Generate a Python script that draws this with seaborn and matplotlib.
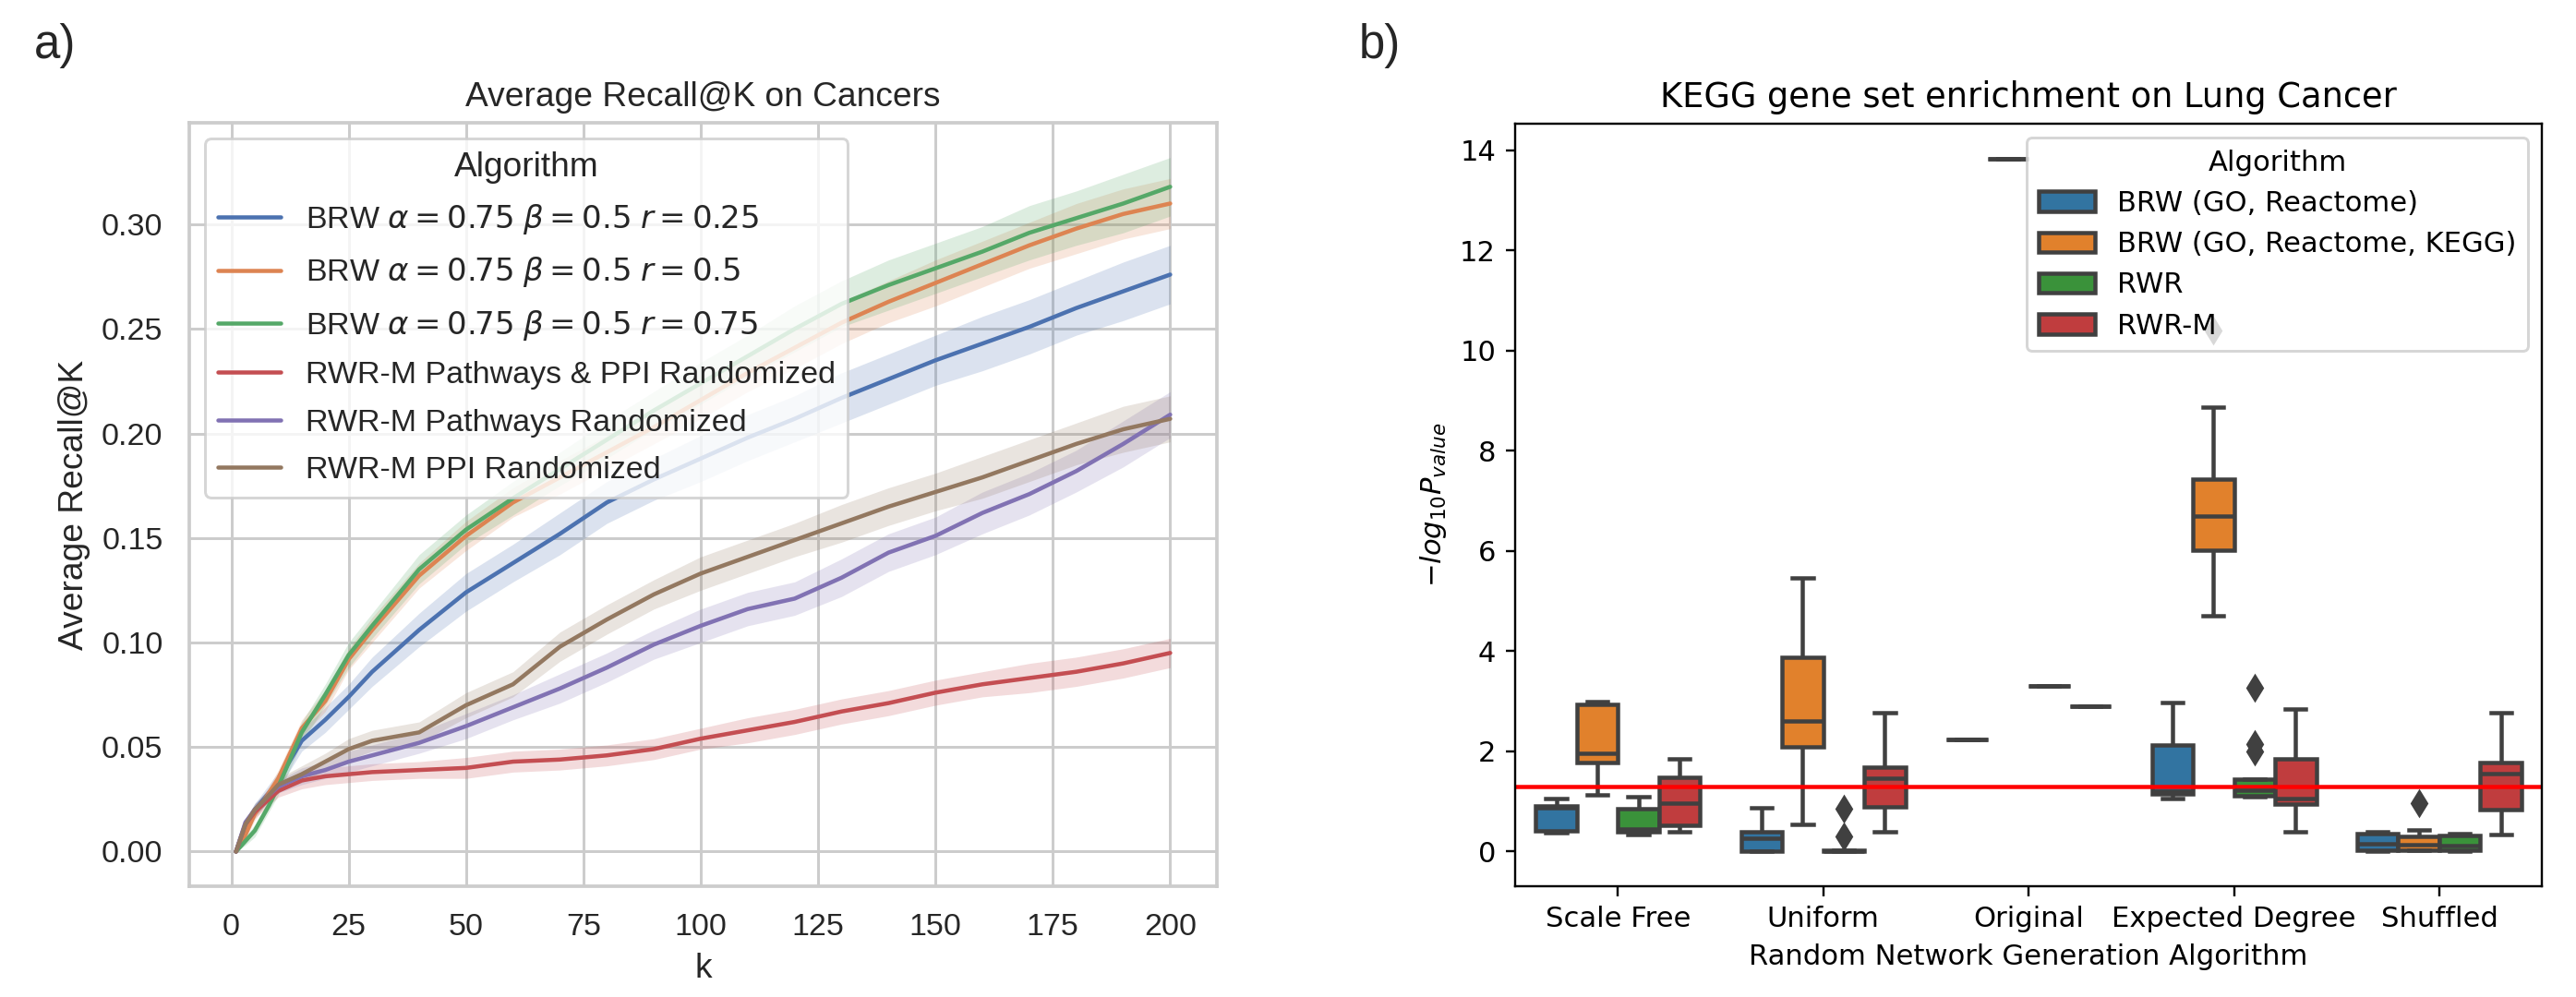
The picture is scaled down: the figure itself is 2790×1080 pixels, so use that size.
import numpy as np
import pandas as pd
import matplotlib
matplotlib.use('Agg')
import matplotlib.pyplot as plt
import seaborn as sns

# ---------------- panel a) average recall@K curves (read off the figure)
k_points = [1, 3, 5, 8, 10, 15, 20, 25, 30, 40, 50, 60, 70, 80, 90, 100,
            110, 120, 130, 140, 150, 160, 170, 180, 190, 200]

recall_brw_r025 = [0, .013, .020, .028, .034, .053, .063, .074, .086, .106, .124, .138, .152,
                   .167, .178, .188, .198, .207, .217, .226, .235, .243, .251, .260, .268, .276]
recall_brw_r05 = [0, .008, .018, .028, .035, .059, .072, .092, .106, .132, .151, .167, .179,
                  .191, .203, .216, .229, .241, .253, .263, .272, .281, .290, .298, .305, .310]
recall_brw_r075 = [0, .005, .010, .022, .031, .057, .075, .094, .108, .135, .154, .169, .183,
                   .197, .211, .224, .237, .250, .262, .271, .279, .287, .296, .303, .310, .318]
recall_rwrm_both = [0, .013, .019, .025, .029, .034, .036, .037, .038, .039, .040, .043, .044,
                    .046, .049, .054, .058, .062, .067, .071, .076, .080, .083, .086, .090, .095]
recall_rwrm_path = [0, .014, .020, .027, .031, .036, .039, .043, .046, .052, .060, .069, .078,
                    .088, .099, .108, .116, .121, .131, .143, .151, .162, .171, .182, .195, .209]
recall_rwrm_ppi = [0, .013, .020, .027, .032, .037, .043, .049, .053, .057, .070, .080, .098,
                   .111, .123, .133, .141, .149, .157, .165, .172, .179, .187, .195, .202, .207]

band_brw_r025 = [0, .002, .003, .004, .004, .005, .006, .006, .007, .008, .009, .009, .010,
                 .010, .010, .011, .011, .011, .012, .012, .012, .013, .013, .013, .014, .014]
band_brw_r05 = [0, .002, .003, .003, .004, .004, .005, .005, .006, .006, .007, .007, .008,
                .008, .008, .009, .009, .010, .010, .010, .011, .011, .011, .012, .012, .012]
band_brw_r075 = [0, .002, .003, .003, .004, .005, .005, .006, .006, .007, .007, .008, .008,
                 .009, .009, .010, .010, .011, .011, .012, .012, .012, .013, .013, .014, .014]
band_rwrm_both = [0, .002, .003, .003, .003, .004, .004, .004, .004, .004, .005, .005, .005,
                  .005, .005, .005, .006, .006, .006, .006, .006, .006, .007, .007, .007, .007]
band_rwrm_path = [0, .002, .003, .003, .003, .004, .004, .005, .005, .005, .006, .006, .007,
                  .007, .007, .008, .008, .008, .009, .009, .009, .010, .010, .010, .011, .011]
band_rwrm_ppi = [0, .002, .003, .003, .003, .004, .004, .005, .005, .005, .006, .006, .007,
                 .007, .007, .008, .008, .008, .009, .009, .009, .010, .010, .010, .011, .011]

line_labels = [r'BRW $\alpha = 0.75$ $\beta = 0.5$ $r = 0.25$',
               r'BRW $\alpha = 0.75$ $\beta = 0.5$ $r = 0.5$',
               r'BRW $\alpha = 0.75$ $\beta = 0.5$ $r = 0.75$',
               'RWR-M Pathways & PPI Randomized',
               'RWR-M Pathways Randomized',
               'RWR-M PPI Randomized']
line_means = [recall_brw_r025, recall_brw_r05, recall_brw_r075,
              recall_rwrm_both, recall_rwrm_path, recall_rwrm_ppi]
line_bands = [band_brw_r025, band_brw_r05, band_brw_r075,
              band_rwrm_both, band_rwrm_path, band_rwrm_ppi]

# ---------------- panel b) -log10 p-values per random network type
networks = ['Scale Free', 'Uniform', 'Original', 'Expected Degree', 'Shuffled']
algorithms = ['BRW (GO, Reactome)', 'BRW (GO, Reactome, KEGG)', 'RWR', 'RWR-M']

brw_go_reactome = [
    [0.38, 0.40, 0.42, 0.70, 0.88, 0.90, 0.92, 0.98, 1.05],
    [0.0, 0.0, 0.0, 0.10, 0.26, 0.35, 0.40, 0.60, 0.88],
    [2.24],
    [1.05, 1.10, 1.15, 1.17, 1.20, 1.60, 2.13, 2.50, 2.98],
    [0.0, 0.01, 0.02, 0.08, 0.15, 0.25, 0.35, 0.38, 0.40],
]
brw_go_reactome_kegg = [
    [1.13, 1.60, 1.77, 1.85, 1.96, 2.50, 2.93, 2.97, 2.99],
    [0.54, 1.50, 2.09, 2.40, 2.61, 3.20, 3.87, 4.60, 5.46],
    [13.84],
    [4.71, 5.50, 6.01, 6.40, 6.69, 7.00, 7.43, 8.88, 10.40],
    [0.02, 0.02, 0.03, 0.10, 0.14, 0.20, 0.30, 0.44, 0.97],
]
rwr = [
    [0.34, 0.37, 0.39, 0.41, 0.45, 0.70, 0.85, 0.95, 1.09],
    [0.0, 0.0, 0.0, 0.0, 0.0, 0.0, 0.02, 0.30, 0.85],
    [3.31],
    [1.09, 1.09, 1.10, 1.12, 1.18, 1.20, 1.23, 1.30, 1.40, 1.44, 2.00, 2.15, 3.28],
    [0.0, 0.01, 0.02, 0.05, 0.11, 0.20, 0.32, 0.34, 0.36],
]
rwr_m = [
    [0.39, 0.45, 0.53, 0.80, 0.97, 1.30, 1.48, 1.70, 1.85],
    [0.39, 0.70, 0.90, 1.30, 1.46, 1.60, 1.69, 2.20, 2.78],
    [2.91],
    [0.39, 0.90, 0.94, 1.00, 1.05, 1.50, 1.86, 2.30, 2.85],
    [0.34, 0.60, 0.83, 1.20, 1.55, 1.64, 1.77, 2.20, 2.78],
]
significance = 1.3

# ---------------- build long tables
rows = []
for lab, means in zip(line_labels, line_means):
    for k, v in zip(k_points, means):
        rows.append({'k': k, 'recall': v, 'Algorithm': lab})
recall_df = pd.DataFrame(rows)

rows = []
for alg, per_net in zip(algorithms, [brw_go_reactome, brw_go_reactome_kegg, rwr, rwr_m]):
    for net, vals in zip(networks, per_net):
        for v in vals:
            rows.append({'network': net, 'score': v, 'Algorithm': alg})
box_df = pd.DataFrame(rows)

# ---------------- figure
DPI = 216
sns.set_theme(style='whitegrid', context='notebook', font_scale=1.03)
plt.rcParams['font.family'] = ['Liberation Sans', 'DejaVu Sans']

fig = plt.figure(figsize=(2790 / DPI, 1080 / DPI), dpi=DPI)

ax1 = fig.add_axes([0.0735, 0.1111, 0.3989, 0.7657])
colors = sns.color_palette('deep', 6)
sns.lineplot(data=recall_df, x='k', y='recall', hue='Algorithm', hue_order=line_labels,
             palette=colors, errorbar=None, ax=ax1)
for lab, means, band, c in zip(line_labels, line_means, line_bands, colors):
    m = np.array(means)
    b = np.array(band)
    ax1.fill_between(k_points, m - b, m + b, color=c, alpha=0.2, linewidth=0)
ax1.set_title('Average Recall@K on Cancers')
ax1.set_xlabel('k')
ax1.set_ylabel('Average Recall@K')
sns.move_legend(ax1, 'upper left', title='Algorithm', labelspacing=0.6)

with plt.style.context('default'):
    plt.rcParams['font.size'] = 10.2
    ax2 = fig.add_axes([0.5882, 0.1111, 0.3986, 0.7648])
    sns.boxplot(data=box_df, x='network', y='score', hue='Algorithm',
                order=networks, hue_order=algorithms, linewidth=1.5, linecolor='.25',
                flierprops={'marker': 'd', 'markerfacecolor': '.25', 'markeredgecolor': '.25'},
                ax=ax2)
    ax2.axhline(significance, color='red', linewidth=1.5)
    ax2.set_title('KEGG gene set enrichment on Lung Cancer')
    ax2.set_xlabel('Random Network Generation Algorithm')
    ax2.set_ylabel(r'$-log_{10}P_{value}$')
    sns.move_legend(ax2, 'upper right', title='Algorithm')

fig.text(0.0133, 0.9417, 'a)', fontsize=17, family='Liberation Sans')
fig.text(0.5276, 0.9417, 'b)', fontsize=17, family='Liberation Sans')

fig.savefig('out.png', dpi=DPI)
